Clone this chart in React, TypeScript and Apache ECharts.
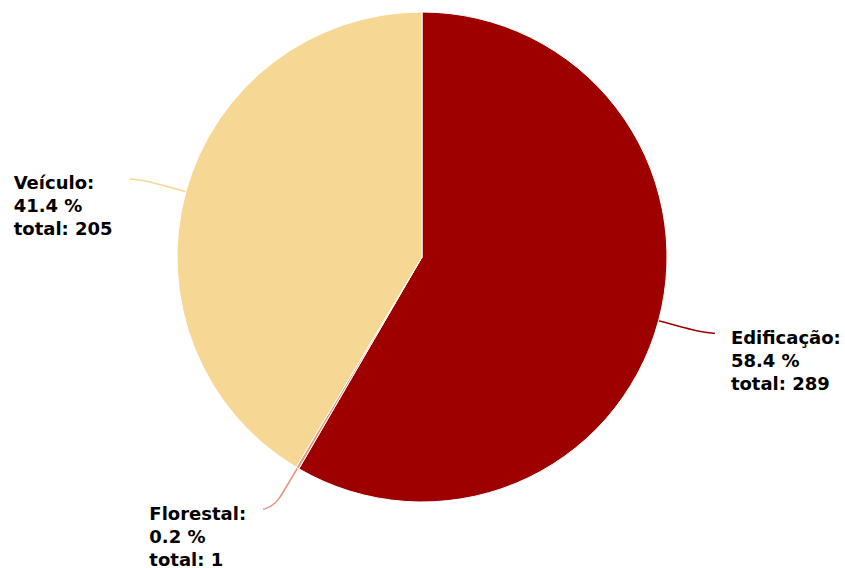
import React, { useEffect, useRef } from "react";
import * as echarts from "echarts";

const categories = ["Edificação", "Florestal", "Veículo"];
const values = [289, 1, 205];
const colors = ["#9e0000", "#e9967a", "#f7d794"];

export default function App() {
  const ref = useRef<HTMLDivElement>(null);
  useEffect(() => {
    if (!ref.current) return;
    const chart = echarts.init(ref.current, null, { renderer: "svg" });
    const total = values.reduce((a, b) => a + b, 0);
    chart.setOption({
      animation: false,
      series: [
        {
          type: "pie",
          center: [422, 257],
          radius: 245,
          startAngle: 90,
          clockwise: true,
          avoidLabelOverlap: false,
          itemStyle: { borderColor: "#ffffff", borderWidth: 1 },
          data: categories.map((c, i) => ({
            name: c,
            value: values[i],
            itemStyle: { color: colors[i] },
            labelLine: { lineStyle: { color: colors[i] } },
          })),
          label: {
            show: true,
            position: "outside",
            fontFamily: "DejaVu Sans",
            fontWeight: "bold",
            fontSize: 18,
            lineHeight: 23,
            color: "#000000",
            align: "left",
            formatter: (p: any) =>
              `${p.name}:\n${((p.value / total) * 100).toFixed(1)} %\ntotal: ${p.value}`,
          },
          labelLine: {
            show: true,
            length: 48,
            length2: 10,
            smooth: 0.8,
            lineStyle: { width: 1.5 },
          },
          labelLayout: (params: any) => {
            const pts = params.labelLinePoints;
            if (!pts) return {};
            const end = pts[pts.length - 1];
            const left = end[0] < pts[0][0];
            const w = params.labelRect.width;
            return {
              x: left ? end[0] - 17 - w : end[0] + 16,
              y: end[1] - 7.5,
              align: "left",
              verticalAlign: "top",
              labelLinePoints: pts,
            };
          },
        },
      ],
    });
    return () => chart.dispose();
  }, []);
  return (
    <div
      ref={ref}
      style={{ position: "absolute", left: 0, top: 0, width: 845, height: 568 }}
    />
  );
}
